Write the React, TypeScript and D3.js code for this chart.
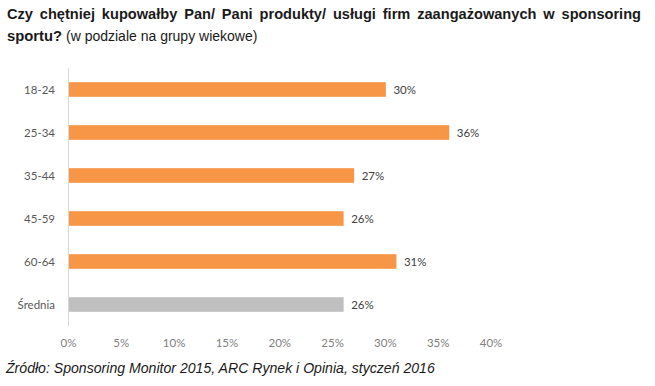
import React, { useLayoutEffect, useRef } from "react";
import * as d3 from "d3";

const categories = ["18-24", "25-34", "35-44", "45-59", "60-64", "Średnia"];
const values = [30, 36, 27, 26, 31, 26];
const tickValues = [0, 5, 10, 15, 20, 25, 30, 35, 40];
const titleLine1 = "Czy chętniej kupowałby Pan/ Pani produkty/ usługi firm zaangażowanych w sponsoring";
const titleBold2 = "sportu?";
const titleNormal2 = " (w podziale na grupy wiekowe)";
const footer = "Źródło: Sponsoring Monitor 2015, ARC Rynek i Opinia, styczeń 2016";

const W = 655;
const H = 386;

export default function App() {
  const line1Ref = useRef<SVGTextElement>(null);
  useLayoutEffect(() => {
    const el = line1Ref.current;
    if (!el) return;
    el.setAttribute("word-spacing", "0");
    const w = el.getComputedTextLength();
    const gaps = titleLine1.split(" ").length - 1;
    const target = 641 - 7;
    el.setAttribute("word-spacing", String((target - w) / gaps));
  }, []);

  const x = d3.scaleLinear().domain([0, 40]).range([68.5, 491]);
  const y = d3
    .scaleBand<string>()
    .domain(categories)
    .range([68, 326])
    .paddingInner(0.66)
    .paddingOuter(0.33);

  const labelFont = "Lato, 'Open Sans', sans-serif";

  return (
    <svg width={W} height={H} style={{ position: "absolute", left: 0, top: 0, background: "#fff" }}>
      <text
        ref={line1Ref}
        x={7}
        y={19}
        fontFamily="'Liberation Sans', Arial, sans-serif"
        fontWeight="bold"
        fontSize={14.6}
        fill="#1a1a1a"
      >
        {titleLine1}
      </text>
      <text x={7} y={41} fontFamily="'Liberation Sans', Arial, sans-serif" fill="#1a1a1a">
        <tspan fontWeight="bold" fontSize={14.8}>{titleBold2}</tspan>
        <tspan fontSize={14}>{titleNormal2}</tspan>
      </text>

      <line x1={x(0)} x2={x(0)} y1={68} y2={326} stroke="#d9d9d9" strokeWidth={1} />

      {categories.map((c, i) => {
        const by = y(c)!;
        const bh = y.bandwidth();
        const fill = c === "Średnia" ? "#bfbfbf" : "#f79646";
        return (
          <g key={c}>
            <rect x={x(0) + 0.5} y={by} width={x(values[i]) - x(0)} height={bh} fill={fill} />
            <text
              x={55}
              y={by + bh / 2}
              dy="0.35em"
              textAnchor="end"
              fontFamily={labelFont}
              fontSize={11.5}
              fill="#595959"
            >
              {c}
            </text>
            <text
              x={x(values[i]) + 8}
              y={by + bh / 2}
              dy="0.35em"
              fontFamily={labelFont}
              fontSize={11.5}
              fill="#404040"
            >
              {values[i]}%
            </text>
          </g>
        );
      })}

      {tickValues.map((t) => (
        <text
          key={t}
          x={x(t)}
          y={343}
          dy="0.35em"
          textAnchor="middle"
          fontFamily={labelFont}
          fontSize={11.5}
          fill="#7f7f7f"
        >
          {t}%
        </text>
      ))}

      <text
        x={6}
        y={373}
        fontFamily="'Liberation Sans', Arial, sans-serif"
        fontStyle="italic"
        fontSize={14.1}
        fill="#1a1a1a"
      >
        {footer}
      </text>
    </svg>
  );
}
